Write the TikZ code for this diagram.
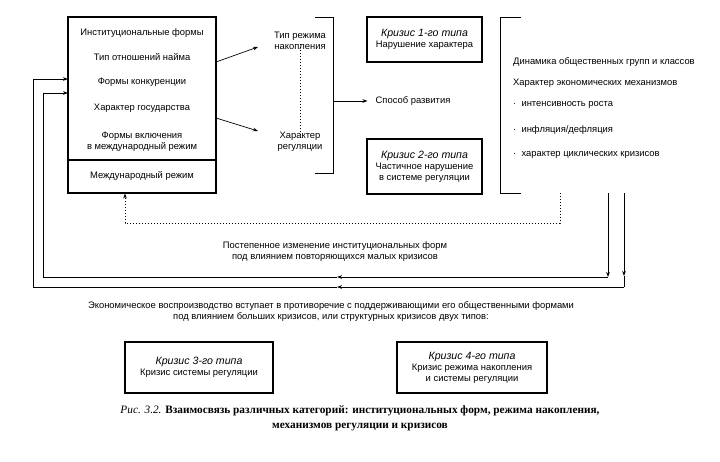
\documentclass[tikz,border=0pt]{standalone}
\usepackage{fontspec}
\setmainfont{Liberation Sans}
\newfontfamily\capfont{Liberation Serif}
\usetikzlibrary{arrows.meta}
\begin{document}
\begin{tikzpicture}[x=1pt,y=-1pt,
  every node/.style={font=\fontsize{9.4}{11}\selectfont, inner sep=0pt, align=center},
  box/.style={draw, line width=1.1pt},
  ln/.style={line width=0.7pt},
  arr/.style={ln, -{Stealth[length=5pt,width=3.6pt]}},
  dotl/.style={line width=0.8pt, dash pattern=on 0.8pt off 2.2pt},
  lt/.style={anchor=west}
]
\useasboundingbox (0,0) rectangle (720,462);

% left box
\node[box, minimum width=148pt, minimum height=176pt] (inst) at (142,105) {};
\coordinate (dv1) at (68,160);
\coordinate (dv2) at (216,160);
\draw[box] (dv1) -- (dv2);
\node (t1) at (142,33) {Институциональные формы};
\node (t2) at (142,57) {Тип отношений найма};
\node (t3) at (142,82) {Формы конкуренции};
\node (t4) at (142,108) {Характер государства};
\node (t5) at (142,142) {Формы включения\\в международный режим};
\node (t6) at (142,176) {Международный режим};

% middle texts
\node (acc) at (300,41) {Тип режима\\накопления};
\node (reg) at (300,142) {Характер\\регуляции};
\draw[dotl] ([yshift=6pt]acc.south) -- ([yshift=-6pt]reg.north);
\coordinate (a1s) at (216,62);
\coordinate (a1e) at (258,47);
\coordinate (a2s) at (216,118);
\coordinate (a2e) at (258,131);
\draw[arr] (a1s) -- (a1e);
\draw[arr] (a2s) -- (a2e);

% middle bracket
\coordinate (b1) at (315,17);
\coordinate (b2) at (333,17);
\coordinate (b3) at (333,173);
\coordinate (b4) at (315,173);
\coordinate (bm) at (333,101);
\draw[ln] (b1) -- (b2) -- (b3) -- (b4);
\node (dev) at (413,101) {Способ развития};
\draw[arr] (bm) -- ([xshift=-8pt]dev.west);

% crisis 1, 2
\node[box, minimum width=115pt, minimum height=45pt] (k1) at (424.5,39.5)
  {{\itshape\fontsize{10.6}{12}\selectfont Кризис 1-го типа}\\Нарушение характера};
\node[box, minimum width=115pt, minimum height=55pt] (k2) at (424.5,166.5)
  {{\itshape\fontsize{10.6}{12}\selectfont Кризис 2-го типа}\\Частичное нарушение\\в системе регуляции};

% right bracket
\coordinate (r1) at (521,17);
\coordinate (r2) at (500,17);
\coordinate (r3) at (500,193);
\coordinate (r4) at (521,193);
\draw[ln] (r1) -- (r2) -- (r3) -- (r4);
\node[lt] (d1) at (513,62) {Динамика общественных групп и классов};
\node[lt] (d2) at (513,83) {Характер экономических механизмов};
\node[lt] (d3) at (513,105) {·\ \ интенсивность роста};
\node[lt] (d4) at (513,130) {·\ \ инфляция/дефляция};
\node[lt] (d5) at (513,155) {·\ \ характер циклических кризисов};

% dotted feedback
\coordinate (p1) at (560,193);
\coordinate (p2) at (560,223);
\coordinate (p3) at (125,223);
\coordinate (p4) at (125,193.5);
\draw[dotl, -{Stealth[length=5pt,width=3.6pt]}] (p1) -- (p2) -- (p3) -- (p4);

% inner solid loop
\coordinate (q1) at (608,193);
\coordinate (q2) at (608,277);
\coordinate (q3) at (337,277);
\coordinate (q4) at (43,277);
\coordinate (q5) at (43,93);
\coordinate (q6) at (68,93);
\draw[arr] (q1) -- (q2);
\draw[arr] (q2) -- (q3);
\draw[arr] (q3) -- (q4) -- (q5) -- (q6);

% outer solid loop
\coordinate (s1) at (624,193);
\coordinate (s2) at (624,276);
\coordinate (s3) at (624,287);
\coordinate (s4) at (337,287);
\coordinate (s5) at (33,287);
\coordinate (s6) at (33,79);
\coordinate (s7) at (68,79);
\draw[arr] (s1) -- (s2);
\draw[ln] (s2) -- (s3);
\draw[arr] (s3) -- (s4);
\draw[arr] (s4) -- (s5) -- (s6) -- (s7);

% texts
\node (gr) at (335,252) {Постепенное изменение институциональных форм\\под влиянием повторяющихся малых кризисов};
\node (ec) at (331,312) {Экономическое воспроизводство вступает в противоречие с поддерживающими его общественными формами\\под влиянием больших кризисов, или структурных кризисов двух типов:};

% crisis 3, 4
\node[box, minimum width=148pt, minimum height=51pt] (k3) at (199,367.5)
  {{\itshape\fontsize{10.6}{12}\selectfont Кризис 3-го типа}\\Кризис системы регуляции};
\node[box, minimum width=150pt, minimum height=51pt] (k4) at (472,367.5)
  {{\itshape\fontsize{10.6}{12}\selectfont Кризис 4-го типа}\\Кризис режима накопления\\и системы регуляции};

% caption
\node[font=\capfont\fontsize{11.3}{15}\selectfont] (cap) at (360,418)
  {{\itshape Рис. 3.2.} \textbf{Взаимосвязь различных категорий: институциональных форм, режима накопления,}\\
   \textbf{механизмов регуляции и кризисов}};
\end{tikzpicture}
\end{document}
